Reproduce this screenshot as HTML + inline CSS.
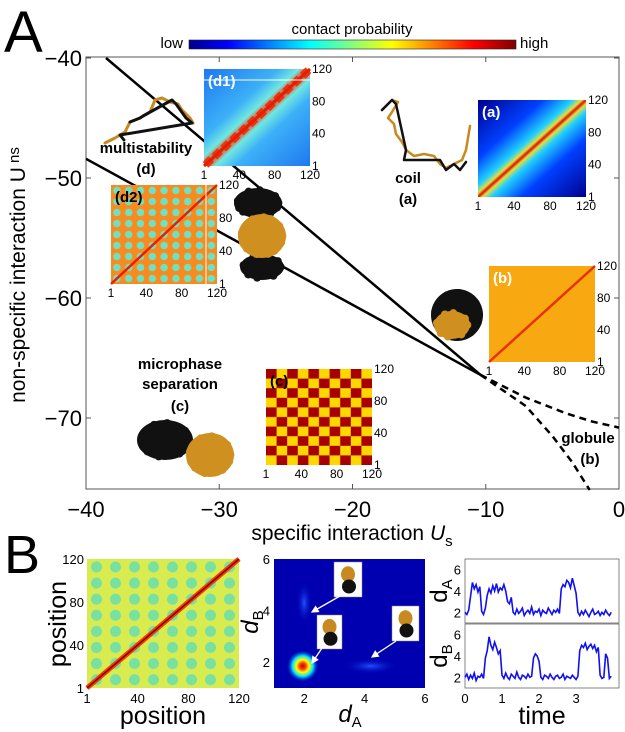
<!DOCTYPE html>
<html><head><meta charset="utf-8">
<style>
html,body{margin:0;padding:0;background:#fff;}
svg{display:block;font-family:"Liberation Sans",sans-serif;}
</style></head>
<body>
<svg id="fig" width="625" height="732" viewBox="0 0 625 732" xmlns="http://www.w3.org/2000/svg">
<defs>
  <linearGradient id="jet" x1="0" x2="1" y1="0" y2="0">
    <stop offset="0" stop-color="#00008f"/><stop offset="0.12" stop-color="#0000ff"/>
    <stop offset="0.37" stop-color="#00ffff"/><stop offset="0.62" stop-color="#ffff00"/>
    <stop offset="0.87" stop-color="#ff0000"/><stop offset="1" stop-color="#800000"/>
  </linearGradient>
  <linearGradient id="gA" x1="0" y1="0" x2="1" y2="1">
    <stop offset="0" stop-color="#000090"/><stop offset="0.3" stop-color="#0040ff"/>
    <stop offset="0.44" stop-color="#20d0ff"/><stop offset="0.48" stop-color="#e0e040"/>
    <stop offset="0.5" stop-color="#e01000"/><stop offset="0.52" stop-color="#e0e040"/>
    <stop offset="0.56" stop-color="#20d0ff"/><stop offset="0.7" stop-color="#0040ff"/>
    <stop offset="1" stop-color="#000090"/>
  </linearGradient>
  <linearGradient id="gD1" x1="0" y1="0" x2="1" y2="1">
    <stop offset="0" stop-color="#1e78f0"/><stop offset="0.35" stop-color="#3cb0f8"/>
    <stop offset="0.45" stop-color="#70e8e0"/><stop offset="0.5" stop-color="#f04010"/>
    <stop offset="0.55" stop-color="#70e8e0"/><stop offset="0.65" stop-color="#3cb0f8"/>
    <stop offset="1" stop-color="#1e78f0"/>
  </linearGradient>
  <pattern id="pD2" width="11.8" height="11" patternUnits="userSpaceOnUse" x="111" y="185">
    <rect width="11.8" height="11" fill="#f88a20"/>
    <circle cx="5.9" cy="5.5" r="3.8" fill="#70e0c0"/>
  </pattern>
  <pattern id="pC" width="21.2" height="19.2" patternUnits="userSpaceOnUse" x="266" y="369">
    <rect width="21.2" height="19.2" fill="#ffd700"/>
    <rect width="10.6" height="9.6" fill="#a80000"/>
    <rect x="10.6" y="9.6" width="10.6" height="9.6" fill="#a80000"/>
  </pattern>
  <pattern id="pB" width="19" height="16.1" patternUnits="userSpaceOnUse" x="87" y="559">
    <rect width="19" height="16.1" fill="#d8ec50"/>
    <circle cx="9.5" cy="8" r="5.5" fill="#78e0a0"/>
  </pattern>
  <radialGradient id="hot">
    <stop offset="0" stop-color="#c00000"/><stop offset="0.2" stop-color="#ff4000"/>
    <stop offset="0.4" stop-color="#ffff00"/><stop offset="0.65" stop-color="#00e0ff"/>
    <stop offset="1" stop-color="#0010d0" stop-opacity="0"/>
  </radialGradient>
  <radialGradient id="faint">
    <stop offset="0" stop-color="#2050ff"/><stop offset="1" stop-color="#0000b0" stop-opacity="0"/>
  </radialGradient>
  <marker id="arr" markerWidth="6" markerHeight="6" refX="5" refY="3" orient="auto"><path d="M0,0 L6,3 L0,6 z" fill="#fff"/></marker>
</defs>

<text x="4" y="52" font-size="58">A</text>
<text x="4" y="573" font-size="54">B</text>

<g>
  <text x="352" y="34" font-size="15" text-anchor="middle">contact probability</text>
  <text x="183" y="48" font-size="15" text-anchor="end">low</text>
  <rect x="189" y="40" width="327" height="9" fill="url(#jet)" stroke="#222" stroke-width="0.6"/>
  <text x="520" y="48" font-size="15">high</text>
</g>

<g id="main"></g>
<g id="insets"></g>
<g id="bpanels"></g>
</svg>

<script>
// ---------- Main phase diagram data ----------
const xTicks = [-40, -30, -20, -10, 0];
const yTicks = [-40, -50, -60, -70];
const boundary1Us = [-38.5, -10.4];
const boundary1Uns = [-40, -66.4];
const boundary2Us = [-40, -10.4];
const boundary2Uns = [-48.4, -66.4];
const dashed1Us = [-10.4, -7, -4, -2, 0];
const dashed1Uns = [-66.4, -68.3, -69.6, -70.3, -70.8];
const dashed2Us = [-10.4, -7, -5, -3.5, -2.2];
const dashed2Uns = [-66.4, -69, -71.5, -73.7, -76];

// ---------- Panel B time trace data ----------
const timeTicks = [0, 1, 2, 3];
const traceTicks = [2, 4, 6];
const dA = [2.0,1.8,2.2,3.5, 4.8,4.2,4.6,3.9,4.4, 2.1,1.8,2.4,
 3.6,4.2,3.8,4.5,4.0,4.7,3.9,4.3,4.1,4.6,4.0, 3.0,2.8,3.4,
 2.0,1.8,2.3,1.9,2.1,2.4,1.7,2.0,2.2,1.9,2.5,1.8,2.1,2.0,2.3,1.7,2.2,2.0,1.9,2.4,2.1,1.8,2.2,2.0,2.3,1.9,
 4.2,4.6,4.4,5.0,4.8,4.3,5.2,4.5,3.8,
 2.0,1.7,2.1,1.8,2.2,1.9,1.6,2.0,2.3,1.8,1.9,2.1,1.7,2.0,1.8,2.2,1.9,1.7,2.0];
const dB = [2.0,2.3,1.8,2.2,1.9,2.4,1.7,2.1,2.0,2.3,1.9,3.8,
 4.5,5.8,5.0,4.6,5.3,4.8,4.2,4.5,
 2.2,1.9,2.4,2.0,1.8,2.3,2.1,1.9,2.5,2.0,1.8,2.2,2.1,1.9,2.3,2.0,2.1,
 3.8,4.2,4.0,3.5,
 2.0,1.8,2.2,2.1,1.9,2.3,2.0,1.8,2.1,2.2,1.9,2.0,2.3,1.8,2.1,2.0,1.9,2.2,2.0,1.8,2.1,
 4.5,5.0,4.8,5.2,4.6,4.9,5.1,4.7,5.0,4.4,4.8,
 2.2,1.9,2.0,4.2,3.8,1.9,2.1];
const timeStep = 0.05;

const NS = "http://www.w3.org/2000/svg";
function mk(tag, attrs, parent, text){
  const e = document.createElementNS(NS, tag);
  for (const k in attrs) e.setAttribute(k, attrs[k]);
  if (text !== undefined) e.textContent = text;
  parent.appendChild(e); return e;
}

const X0 = 86, X1 = 619, Y0 = 57, Y1 = 489;
const xs = v => X0 + (v + 40) / 40 * (X1 - X0);
const ys = v => 58 + (-40 - v) * 12;

const main = document.getElementById('main');
const frame = mk('rect', {x:X0, y:Y0, width:X1-X0, height:Y1-Y0, fill:'none', stroke:'#555', 'stroke-width':1}, main);



xTicks.forEach(t => {
  const x = xs(t);
  const tk = mk('path', {d:`M${x},${Y1}v-5M${x},${Y0}v5`, stroke:'#555'}, main);
  
  
  const lb = mk('text', {x:x, y:517, 'font-size':22, 'text-anchor':'middle'}, main, t === 0 ? '0' : '\u2212' + Math.abs(t));
  
  
});
yTicks.forEach(t => {
  const y = ys(t);
  const tk = mk('path', {d:`M${X0},${y}h5M${X1},${y}h-5`, stroke:'#555'}, main);
  
  
  const lb = mk('text', {x:82, y:y+8, 'font-size':22, 'text-anchor':'end'}, main, '\u2212' + Math.abs(t));
  
  
});

const xt = mk('text', {x:352, y:540, 'font-size':21, 'text-anchor':'middle'}, main);


xt.innerHTML = 'specific interaction <tspan font-style="italic">U</tspan><tspan font-size="15" dy="6">s</tspan>';
const yt = mk('text', {x:0, y:0, 'font-size':21, 'text-anchor':'middle', transform:'translate(25,275) rotate(-90)'}, main);


yt.innerHTML = 'non-specific interaction U<tspan font-size="15" dy="-6"> ns</tspan>';

function line(usArr, unsArr, dash, name){
  const pts = usArr.map((u,i) => xs(u) + ',' + ys(unsArr[i])).join(' ');
  const p = mk('polyline', {points:pts, fill:'none', stroke:'#000', 'stroke-width':2.5}, main);
  if (dash) p.setAttribute('stroke-dasharray', '7,5');
  
  
}
line(boundary1Us, boundary1Uns, false, 'coil-multistability-boundary');
line(boundary2Us, boundary2Uns, false, 'multistability-microphase-boundary');
line(dashed1Us, dashed1Uns, true, 'globule-upper-boundary');
line(dashed2Us, dashed2Uns, true, 'globule-lower-boundary');

function lbl(x, y, s, name){
  const t = mk('text', {x:x, y:y, 'font-size':15, 'font-weight':'bold', 'text-anchor':'middle'}, main, s);
  
  
}
lbl(146, 153, 'multistability', 'label-multistability');
lbl(146, 174, '(d)', 'label-d');
lbl(408, 183, 'coil', 'label-coil');
lbl(408, 204, '(a)', 'label-a');
lbl(180, 369, 'microphase', 'label-microphase');
lbl(180, 389, 'separation', 'label-separation');
lbl(180, 411, '(c)', 'label-c');
lbl(588, 443, 'globule', 'label-globule');
lbl(590, 464, '(b)', 'label-b');

const ins = document.getElementById('insets');
const insetTicks = ['1', '40', '80', '120'];
function inset(x, y, w, h, fill, label, labColor, name){
  const g = mk('g', {}, ins);
  
  
  mk('rect', {x:x, y:y, width:w, height:h, fill:fill}, g);
  insetTicks.forEach((t,i) => {
    const fx = x + i / 3 * w, fy = y + h - i / 3 * h;
    mk('text', {x:fx, y:y+h+13, 'font-size':12, 'text-anchor':'middle'}, g, t);
    mk('text', {x:x+w+2, y:fy+4, 'font-size':12}, g, t);
  });
  if (label) mk('text', {x:x+4, y:y+17, 'font-size':15, 'font-weight':'bold', fill:labColor}, g, label);
  return g;
}
let g;
g = inset(204, 69, 106, 97, 'url(#gD1)', null, '#fff', 'inset-d1');
for (let i = 0; i < 12; i++){
  const cx = 204 + (i + 0.5) * 106 / 12, cy = 166 - (i + 0.5) * 97 / 12;
  mk('rect', {x:cx-4, y:cy-4, width:8, height:8, fill:'#f03010', transform:`rotate(45 ${cx} ${cy})`}, g);
}
mk('line', {x1:204, y1:166, x2:310, y2:69, stroke:'#e02000', 'stroke-width':3}, g);
mk('line', {x1:204, y1:80, x2:310, y2:80, stroke:'#fff', 'stroke-width':1}, g);
mk('text', {x:208, y:86, 'font-size':15, 'font-weight':'bold', fill:'#fff'}, g, '(d1)');

g = inset(478, 100, 108, 97, 'url(#gA)', '(a)', '#fff', 'inset-a');
g = inset(111, 185, 106, 99, 'url(#pD2)', null, '#000', 'inset-d2');
mk('line', {x1:111, y1:284, x2:217, y2:185, stroke:'#e82000', 'stroke-width':2.5}, g);
mk('line', {x1:206, y1:185, x2:206, y2:284, stroke:'#fff', 'stroke-width':1}, g);
mk('text', {x:115, y:202, 'font-size':15, 'font-weight':'bold'}, g, '(d2)');

g = inset(489, 266, 106, 96, '#f8a810', '(b)', '#fff', 'inset-b');
mk('line', {x1:489, y1:362, x2:595, y2:266, stroke:'#e83000', 'stroke-width':2.5}, g);

g = inset(266, 369, 106, 96, 'url(#pC)', '(c)', '#000', 'inset-c');

function chain(pts, color, w, name){
  const p = mk('polyline', {points:pts, fill:'none', stroke:color, 'stroke-width':w, 'stroke-linejoin':'round', 'stroke-linecap':'round'}, ins);
  
  
}
function blob(cx, cy, rx, ry, color, n, name){
  const grp = mk('g', {}, ins);
  
  
  mk('ellipse', {cx:cx, cy:cy, rx:rx, ry:ry, fill:color}, grp);
  for (let i = 0; i < n; i++){
    const a = i * 2.39996, r = 0.85;
    mk('circle', {cx:cx + Math.cos(a)*rx*r, cy:cy + Math.sin(a)*ry*r, r:4, fill:color}, grp);
  }
}
chain('105,143 115,138 125,132 130,122 140,118 150,112 155,100 162,98 170,102 178,104 182,110 190,118 193,123', '#c88a20', 3, 'coil-d-orange');
chain('130,122 140,118 143,116  172,100 176,104  186,118 192,123  120,135 124,140', '#111', 3, 'coil-d-black');
chain('382,110 392,100 398,102 392,112 388,118 394,124 396,134 402,142 406,150 414,156 424,154 434,156 440,164 446,168 454,164 462,160 466,150 470,126', '#c88a20', 2.5, 'coil-a-orange');
chain('382,110 392,100 396,104  406,150 404,160 412,160  440,160 446,170  454,164 460,170 466,162', '#111', 2.5, 'coil-a-black');
blob(258, 203, 24, 15, '#111', 10, 'multistable-black-top');
blob(262, 267, 22, 13, '#111', 8, 'multistable-black-bottom');
blob(262, 236, 24, 22, '#d09020', 12, 'multistable-orange');
blob(457, 315, 26, 26, '#111', 10, 'globule-black');
blob(452, 325, 18, 14, '#d09020', 8, 'globule-orange');
blob(165, 440, 28, 20, '#111', 10, 'microphase-black');
blob(210, 455, 24, 22, '#d09020', 10, 'microphase-orange');

// ---------- Panel B ----------
const bp = document.getElementById('bpanels');
g = mk('g', {}, bp);


mk('rect', {x:87, y:559, width:152, height:129, fill:'url(#pB)'}, g);
mk('line', {x1:87, y1:688, x2:239, y2:559, stroke:'#f04000', 'stroke-width':5}, g);
mk('line', {x1:87, y1:688, x2:239, y2:559, stroke:'#900000', 'stroke-width':1.6}, g);
insetTicks.forEach((t,i) => {
  mk('text', {x:87 + i/3*152, y:703, 'font-size':13, 'text-anchor':'middle'}, g, t);
  mk('text', {x:84, y:688 - i/3*129 + 5, 'font-size':13, 'text-anchor':'end'}, g, t);
});
mk('text', {x:163, y:724, 'font-size':25, 'text-anchor':'middle'}, g, 'position');
mk('text', {x:0, y:0, 'font-size':25, 'text-anchor':'middle', transform:'translate(66,624) rotate(-90)'}, g, 'position');

const mx = v => 274 + (v - 1) / 5 * 151;
const my = v => 688 - (v - 1) / 5 * 129;
g = mk('g', {}, bp);


mk('rect', {x:274, y:559, width:151, height:129, fill:'#0000b0'}, g);
mk('ellipse', {cx:mx(2), cy:my(4.3), rx:8, ry:22, fill:'url(#faint)'}, g);
mk('ellipse', {cx:mx(4.2), cy:my(1.85), rx:28, ry:8, fill:'url(#faint)'}, g);
mk('circle', {cx:mx(1.95), cy:my(1.85), r:16, fill:'url(#hot)'}, g);
[2,4,6].forEach(t => {
  mk('text', {x:mx(t), y:703, 'font-size':13, 'text-anchor':'middle'}, g, String(t));
  mk('text', {x:270, y:my(t)+5, 'font-size':13, 'text-anchor':'end'}, g, String(t));
});
mk('text', {x:350, y:722, 'font-size':24, 'font-style':'italic', 'text-anchor':'middle'}, g).innerHTML = 'd<tspan font-size="15" font-style="normal" dy="5">A</tspan>';
mk('text', {x:0, y:0, 'font-size':24, 'font-style':'italic', 'text-anchor':'middle', transform:'translate(258,622) rotate(-90)'}, g).innerHTML = 'd<tspan font-size="15" font-style="normal" dy="5">B</tspan>';
[[334,562,28,35,'b-snapshot-top'],[317,615,25,34,'b-snapshot-compact'],[392,606,27,35,'b-snapshot-right']].forEach(b => {
  const r = mk('rect', {x:b[0], y:b[1], width:b[2], height:b[3], fill:'#fff', stroke:'#888', 'stroke-width':0.5}, g);
  
  
  mk('ellipse', {cx:b[0]+b[2]/2, cy:b[1]+b[3]*0.35, rx:7, ry:8, fill:'#c88a20'}, g);
  mk('ellipse', {cx:b[0]+b[2]/2+1, cy:b[1]+b[3]*0.7, rx:7, ry:7, fill:'#111'}, g);
});
[[340,596,312,612],[322,648,312,663],[396,641,372,657]].forEach(a => {
  mk('line', {x1:a[0], y1:a[1], x2:a[2], y2:a[3], stroke:'#fff', 'stroke-width':1.3, 'marker-end':'url(#arr)'}, g);
});

const tx = v => 465 + v / 4.16 * 154;
function trace(vals, top, name, lab){
  const ty = v => top + 64 - (v - 1) / 6 * 64;
  const gg = mk('g', {}, bp);
  
  
  mk('rect', {x:465, y:top, width:154, height:64, fill:'#fff', stroke:'#666', 'stroke-width':0.8}, gg);
  const pts = vals.map((v,i) => tx(i * timeStep) + ',' + ty(v)).join(' ');
  const pl = mk('polyline', {points:pts, fill:'none', stroke:'#1010f0', 'stroke-width':1.6}, gg);
  
  
  traceTicks.forEach(t => mk('text', {x:461, y:ty(t)+5, 'font-size':13, 'text-anchor':'end'}, gg, String(t)));
  mk('text', {x:0, y:0, 'font-size':24, 'text-anchor':'middle', transform:`translate(447,${top+32}) rotate(-90)`}, gg).innerHTML = 'd<tspan font-size="15" dy="5">' + lab + '</tspan>';
}
trace(dA, 559, 'b-trace-da', 'A');
trace(dB, 624, 'b-trace-db', 'B');
timeTicks.forEach(t => {
  const lb = mk('text', {x:tx(t), y:703, 'font-size':13, 'text-anchor':'middle'}, bp, String(t));
  
  
});
const tt = mk('text', {x:542, y:724, 'font-size':25, 'text-anchor':'middle'}, bp, 'time');


</script>
</body></html>
